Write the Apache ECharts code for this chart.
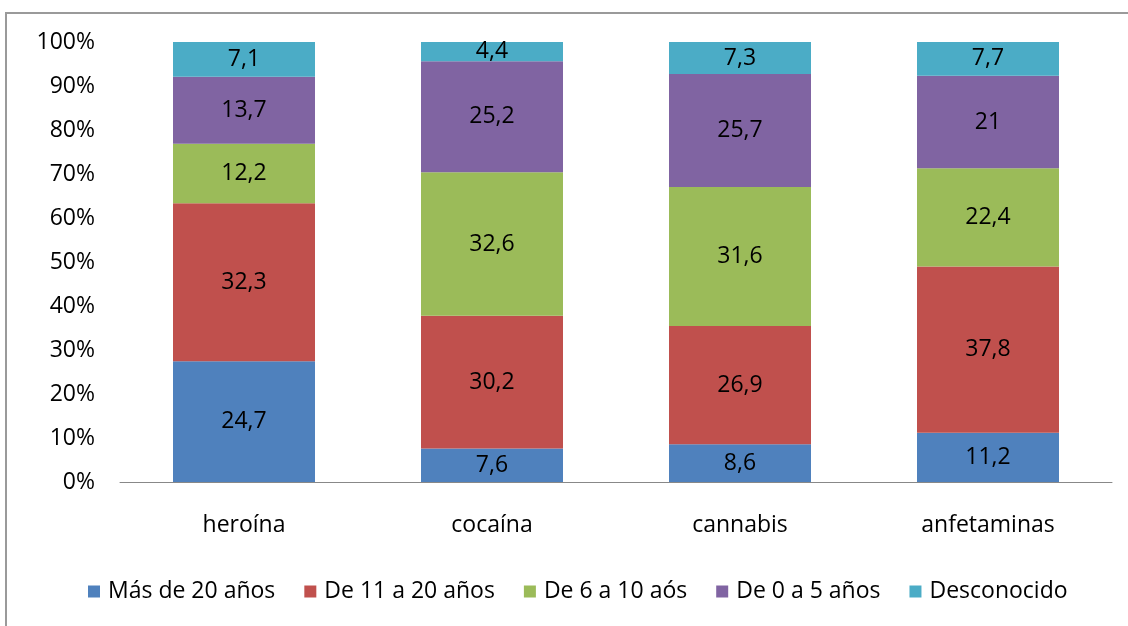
<!DOCTYPE html>
<html>
<head>
<meta charset="utf-8">
<script src="https://cdn.jsdelivr.net/npm/echarts@6/dist/echarts.min.js"></script>
<style>
  html, body { margin: 0; padding: 0; background: #fff; }
  #chart { width: 1128px; height: 626px; }
</style>
</head>
<body>
<div id="chart"></div>
<script>
const categories = ['heroína', 'cocaína', 'cannabis', 'anfetaminas']
const seriesNames = ['Más de 20 años', 'De 11 a 20 años', 'De 6 a 10 aós', 'De 0 a 5 años', 'Desconocido']
const mas20 = [24.7, 7.6, 8.6, 11.2]
const de11a20 = [32.3, 30.2, 26.9, 37.8]
const de6a10 = [12.2, 32.6, 31.6, 22.4]
const de0a5 = [13.7, 25.2, 25.7, 21]
const desconocido = [7.1, 4.4, 7.3, 7.7]
const colors = ['#4F81BD', '#C0504D', '#9BBB59', '#8064A2', '#4BACC6']

const raw = [mas20, de11a20, de6a10, de0a5, desconocido]
// 100% apilado: cada columna se normaliza con su total
const totals = categories.map((c, i) => raw.reduce((s, arr) => s + arr[i], 0))

const font = 'Open Sans'
const fs = 23

const chart = echarts.init(document.getElementById('chart'))

const series = raw.map((arr, k) => ({
  name: seriesNames[k],
  type: 'bar',
  stack: 'total',
  barWidth: 142,
  itemStyle: { color: colors[k] },
  label: {
    show: true,
    position: 'inside',
    color: '#000',
    fontSize: fs,
    fontFamily: font,
    formatter: p => String(arr[p.dataIndex]).replace('.', ',')
  },
  data: arr.map((v, i) => v / totals[i] * 100)
}))

chart.setOption({
  animation: false,
  textStyle: { fontFamily: font },
  grid: { left: 120, right: 16, top: 42, bottom: 144 },
  graphic: [{
    type: 'rect',
    shape: { x: 6, y: 13, width: 1200, height: 700 },
    style: { fill: 'none', stroke: '#9a9a9a', lineWidth: 2 },
    silent: true
  }],
  legend: {
    bottom: 18,
    left: 83,
    icon: 'rect',
    itemWidth: 12,
    itemHeight: 12,
    itemGap: 29,
    textStyle: { fontSize: fs, color: '#000', fontFamily: font, padding: [0, 0, 0, 3] },
    data: seriesNames
  },
  xAxis: {
    type: 'category',
    data: categories,
    axisLine: { lineStyle: { color: '#888' } },
    axisTick: { show: false },
    axisLabel: { fontSize: fs, color: '#000', margin: 32, fontFamily: font }
  },
  yAxis: {
    type: 'value',
    min: 0,
    max: 100,
    interval: 10,
    axisLine: { show: false },
    axisTick: { show: false },
    splitLine: { show: false },
    axisLabel: { fontSize: fs, color: '#000', margin: 25, fontFamily: font, formatter: '{value}%' }
  },
  series: series
})
</script>
</body>
</html>
